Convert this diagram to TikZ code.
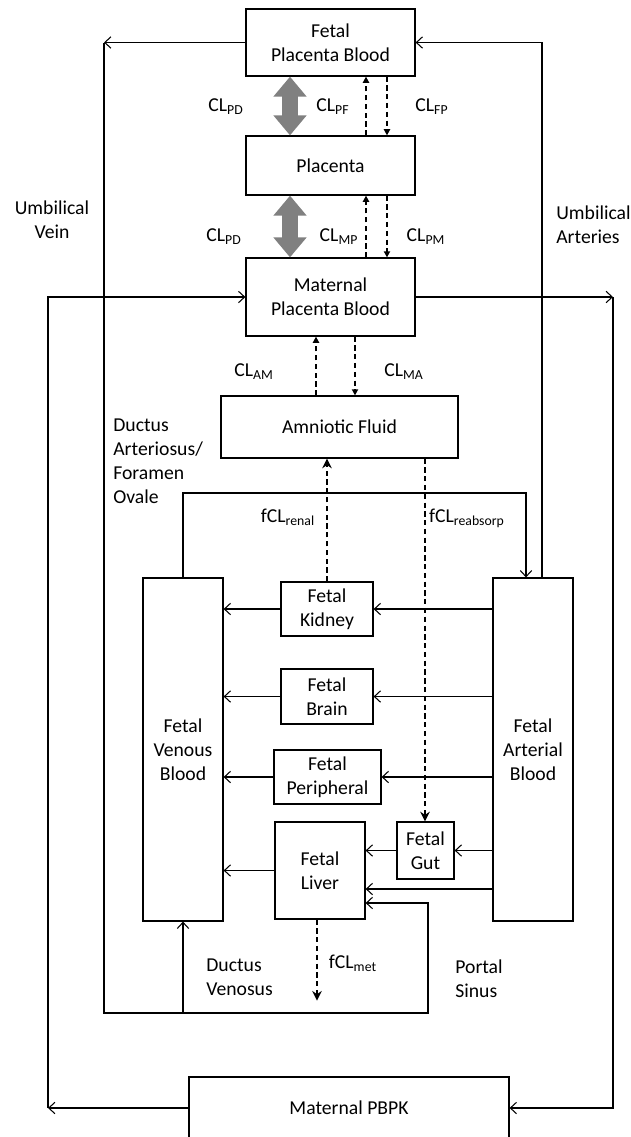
\documentclass[tikz,border=0pt]{standalone}
\usepackage{fontspec}
\setmainfont{Carlito}
\usetikzlibrary{arrows.meta}

\definecolor{arrowgray}{RGB}{128,128,128}

\begin{document}
\begin{tikzpicture}[x=0.02cm,y=-0.02cm,
  box/.style={draw,line width=0.7pt,inner sep=0pt,align=center,font=\fontsize{11.2}{13.7}\selectfont},
  lbl/.style={inner sep=0pt,font=\fontsize{11.2}{13.7}\selectfont},
  flow/.style={line width=0.6pt,-{Straight Barb[length=3.5pt,width=6.5pt]}},
  wire/.style={line width=0.6pt},
  clear/.style={line width=1.1pt,dash pattern=on 3pt off 2pt,-{Triangle[length=3.5pt,width=3.5pt]}},
  fclear/.style={line width=1.1pt,dash pattern=on 3pt off 2pt,-{Stealth[length=5.5pt,width=5.5pt]}},
  dbl/.style={draw=arrowgray,line width=0.33cm,{Triangle[length=0.4cm,width=0.64cm]}-{Triangle[length=0.4cm,width=0.64cm]}}]

\useasboundingbox (0,0) rectangle (631,1137);

% Placenta compartments
\node[box,minimum width=3.38cm,minimum height=1.34cm] (fpb) at (330.5,42.5) {Fetal\\Placenta Blood};
\node[box,minimum width=3.38cm,minimum height=1.18cm] (plac) at (330.5,165.5) {Placenta};
\node[box,minimum width=3.38cm,minimum height=1.56cm] (mpb) at (330.5,297) {Maternal\\Placenta Blood};
\node[box,minimum width=4.74cm,minimum height=1.24cm] (amn) at (339.5,427) {Amniotic Fluid};

% Fetal compartments
\node[box,minimum width=1.6cm,minimum height=6.86cm] (ven) at (183,749.5) {Fetal\\Venous\\Blood};
\node[box,minimum width=1.6cm,minimum height=6.86cm] (art) at (533,749.5) {Fetal\\Arterial\\Blood};
\node[box,minimum width=1.84cm,minimum height=1.08cm] (kid) at (327,609) {Fetal\\Kidney};
\node[box,minimum width=1.84cm,minimum height=1.1cm] (brain) at (327,696.5) {Fetal\\Brain};
\node[box,minimum width=2.14cm,minimum height=1.08cm] (peri) at (327.5,777) {Fetal\\Peripheral};
\node[box,minimum width=1.14cm,minimum height=1.14cm] (gut) at (425.5,850.5) {Fetal\\Gut};
\node[box,minimum width=1.8cm,minimum height=1.94cm] (liver) at (320,870.5) {Fetal\\Liver};

% Maternal model (cut at the bottom edge)
\node[box,minimum width=6.4cm,minimum height=1.24cm] (pbpk) at (349,1108) {Maternal PBPK};

% Corners of the long connectors
\coordinate (uvtop) at (fpb.west -| 104,0);
\coordinate (uvbot) at (104,1013);
\coordinate (psbot) at (428,1013);
\coordinate (dacorner) at (183,493);
\coordinate (mleft) at (48,1108);
\coordinate (mright) at (613,1108);

% Diffusion between placenta compartments
\draw[dbl] ([xshift=-0.81cm]fpb.south) -- ([xshift=-0.81cm]plac.north);
\draw[dbl] ([xshift=-0.81cm]plac.south) -- ([xshift=-0.81cm]mpb.north);

% Transfer clearances
\draw[clear] ([xshift=0.71cm]plac.north) -- ([xshift=0.71cm]fpb.south);
\draw[clear] ([xshift=1.13cm]fpb.south) -- ([xshift=1.13cm]plac.north);
\draw[clear] ([xshift=0.71cm]mpb.north) -- ([xshift=0.71cm]plac.south);
\draw[clear] ([xshift=1.13cm]plac.south) -- ([xshift=1.13cm]mpb.north);
\draw[clear] ([xshift=-0.29cm]mpb.south |- amn.north) -- ([xshift=-0.29cm]mpb.south);
\draw[clear] ([xshift=0.49cm]mpb.south) -- ([xshift=0.49cm]mpb.south |- amn.north);
\draw[fclear] (kid.north) -- (kid.north |- amn.south);
\draw[fclear] ([xshift=-0.01cm]gut.north |- amn.south) -- ([xshift=-0.01cm]gut.north);
\draw[fclear] ([xshift=-0.06cm]liver.south) -- ++(0,81);

% Umbilical vein, portal sinus and ductus venosus
\draw[flow] (fpb.west) -- (uvtop);
\draw[flow] (uvtop) -- (uvbot) -- (psbot) |- ([yshift=-0.65cm]liver.east);
\draw[flow] (ven.south |- uvbot) -- (ven.south);

% Umbilical arteries
\draw[flow] ([xshift=0.18cm]art.north) |- (fpb.east);

% Ductus arteriosus / foramen ovale
\draw[flow] (ven.north) -- (dacorner) -| ([xshift=-0.14cm]art.north);

% Maternal circulation
\draw[flow] (pbpk.west) -- (mleft);
\draw[flow] (mleft) |- (mpb.west);
\draw[flow] (mpb.east) -- (mpb.east -| mright);
\draw[flow] (mpb.east -| mright) -- (mright) -- (pbpk.east);

% Fetal organ blood flows
\foreach \org in {kid,brain,peri} {
  \draw[flow] (art.west |- \org) -- (\org.east);
  \draw[flow] (\org.west) -- (\org.west -| ven.east);
}
\draw[flow] (art.west |- gut) -- (gut.east);
\draw[flow] (gut.west) -- (gut.west -| liver.east);
\draw[flow] (liver.west) -- (liver.west -| ven.east);
\draw[flow] (art.west |- 0,889) -- (liver.east |- 0,889);

% Labels
\node[lbl] (pd1) at (226,107) {CL\textsubscript{PD}};
\node[lbl] (pf) at (333,107) {CL\textsubscript{PF}};
\node[lbl] (fp) at (432,107) {CL\textsubscript{FP}};
\node[lbl] (pd2) at (224,237) {CL\textsubscript{PD}};
\node[lbl] (mp) at (339,237) {CL\textsubscript{MP}};
\node[lbl] (pm) at (426,237) {CL\textsubscript{PM}};
\node[lbl] (am) at (254,372) {CL\textsubscript{AM}};
\node[lbl] (ma) at (404,372) {CL\textsubscript{MA}};
\node[lbl] (renal) at (288,517) {fCL\textsubscript{renal}};
\node[lbl] (reabs) at (467,518) {fCL\textsubscript{reabsorp}};
\node[lbl] (met) at (353,963) {fCL\textsubscript{met}};
\node[lbl,align=center] (uv) at (52,220) {Umbilical\\Vein};
\node[lbl,align=left,anchor=west] (ua) at (556,225) {Umbilical\\Arteries};
\node[lbl,align=left,anchor=west] (da) at (113,461.5) {Ductus\\Arteriosus/\\Foramen\\Ovale};
\node[lbl,align=left,anchor=west] (dv) at (206,977) {Ductus\\Venosus};
\node[lbl,align=left,anchor=west] (ps) at (455,979) {Portal\\Sinus};

\end{tikzpicture}
\end{document}
